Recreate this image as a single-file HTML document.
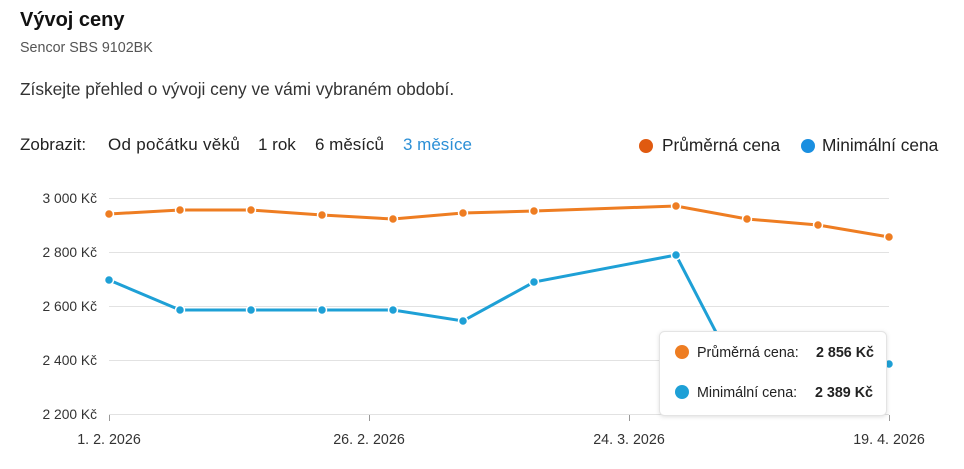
<!DOCTYPE html>
<html><head><meta charset="utf-8"><style>
body{margin:0;width:964px;height:469px;background:#fff;font-family:"Liberation Sans","DejaVu Sans",sans-serif;position:relative;overflow:hidden;color:#222}
.a{position:absolute;white-space:nowrap}
</style></head><body>
<div class="a" style="left:20px;top:9px;font-size:20px;font-weight:bold;color:#111">Vývoj ceny</div>
<div class="a" style="left:20px;top:40px;font-size:14.3px;color:#555">Sencor SBS 9102BK</div>
<div class="a" style="left:20px;top:79px;font-size:17.3px;color:#333">Získejte přehled o vývoji ceny ve vámi vybraném období.</div>
<div class="a" style="left:20px;top:135px;font-size:17px;color:#222">Zobrazit:</div>
<div class="a" style="left:108px;top:135px;font-size:17px;color:#222;letter-spacing:0.3px">Od počátku věků</div>
<div class="a" style="left:258px;top:135px;font-size:17px;color:#222">1 rok</div>
<div class="a" style="left:315px;top:135px;font-size:17px;color:#222">6 měsíců</div>
<div class="a" style="left:403px;top:135px;font-size:17px;color:#2b8fd6">3 měsíce</div>
<div class="a" style="left:639px;top:139px;width:14px;height:14px;border-radius:50%;background:#e05a10"></div>
<div class="a" style="left:662px;top:135px;font-size:17.3px;color:#222">Průměrná cena</div>
<div class="a" style="left:801px;top:139px;width:14px;height:14px;border-radius:50%;background:#1a8fe0"></div>
<div class="a" style="left:822px;top:135px;font-size:17.3px;color:#222">Minimální cena</div>
<svg class="a" style="left:0;top:0" width="964" height="469">
<g stroke="#e2e2e2" stroke-width="1">
<line x1="109" x2="889" y1="198.5" y2="198.5"/><line x1="109" x2="889" y1="252.5" y2="252.5"/><line x1="109" x2="889" y1="306.5" y2="306.5"/><line x1="109" x2="889" y1="360.5" y2="360.5"/><line x1="109" x2="889" y1="414.5" y2="414.5"/>
</g>
<g stroke="#999" stroke-width="1"><line x1="109.5" x2="109.5" y1="415" y2="421"/><line x1="369.5" x2="369.5" y1="415" y2="421"/><line x1="629.5" x2="629.5" y1="415" y2="421"/><line x1="889.5" x2="889.5" y1="415" y2="421"/></g>
<g font-size="13.8" fill="#333" text-anchor="end">
<text x="97" y="203">3 000 Kč</text><text x="97" y="257">2 800 Kč</text><text x="97" y="311">2 600 Kč</text><text x="97" y="365">2 400 Kč</text><text x="97" y="419">2 200 Kč</text>
</g>
<g font-size="14.3" fill="#333" text-anchor="middle">
<text x="109" y="444">1. 2. 2026</text><text x="369" y="444">26. 2. 2026</text><text x="629" y="444">24. 3. 2026</text><text x="889" y="444">19. 4. 2026</text>
</g>
<polyline fill="none" stroke="#ee7d22" stroke-width="3" points="109,214 180,210 251,210 322,215 393,219 463,213 534,211 605,208.5 676,206 747,219 818,225 889,237"/>
<g fill="#ee7d22" stroke="#fff" stroke-width="1.5">
<circle cx="109" cy="214" r="4.5"/><circle cx="180" cy="210" r="4.5"/><circle cx="251" cy="210" r="4.5"/><circle cx="322" cy="215" r="4.5"/><circle cx="393" cy="219" r="4.5"/><circle cx="463" cy="213" r="4.5"/><circle cx="534" cy="211" r="4.5"/><circle cx="676" cy="206" r="4.5"/><circle cx="747" cy="219" r="4.5"/><circle cx="818" cy="225" r="4.5"/><circle cx="889" cy="237" r="4.5"/>
</g>
<polyline fill="none" stroke="#1ea0d6" stroke-width="3" points="109,280 180,310 251,310 322,310 393,310 463,321 534,282 676,255 747,392 818,378 889,364"/>
<g fill="#1ea0d6" stroke="#fff" stroke-width="1.5">
<circle cx="109" cy="280" r="4.5"/><circle cx="180" cy="310" r="4.5"/><circle cx="251" cy="310" r="4.5"/><circle cx="322" cy="310" r="4.5"/><circle cx="393" cy="310" r="4.5"/><circle cx="463" cy="321" r="4.5"/><circle cx="534" cy="282" r="4.5"/><circle cx="676" cy="255" r="4.5"/><circle cx="889" cy="364" r="4.5"/>
</g>
<rect x="659.5" y="331.5" width="227" height="84" rx="5" fill="#fff" stroke="#e4e4e4" style="filter:drop-shadow(0 1px 2px rgba(0,0,0,.12))"/>
<circle cx="682" cy="352" r="7" fill="#ee7d22"/>
<circle cx="682" cy="392" r="7" fill="#1ea0d6"/>
<g font-size="14.3" fill="#222">
<text x="697" y="357">Průměrná cena:</text><text x="874" y="357" text-anchor="end" font-weight="bold">2 856 Kč</text>
<text x="697" y="397">Minimální cena:</text><text x="873" y="397" text-anchor="end" font-weight="bold">2 389 Kč</text>
</g>
</svg>
</body></html>
